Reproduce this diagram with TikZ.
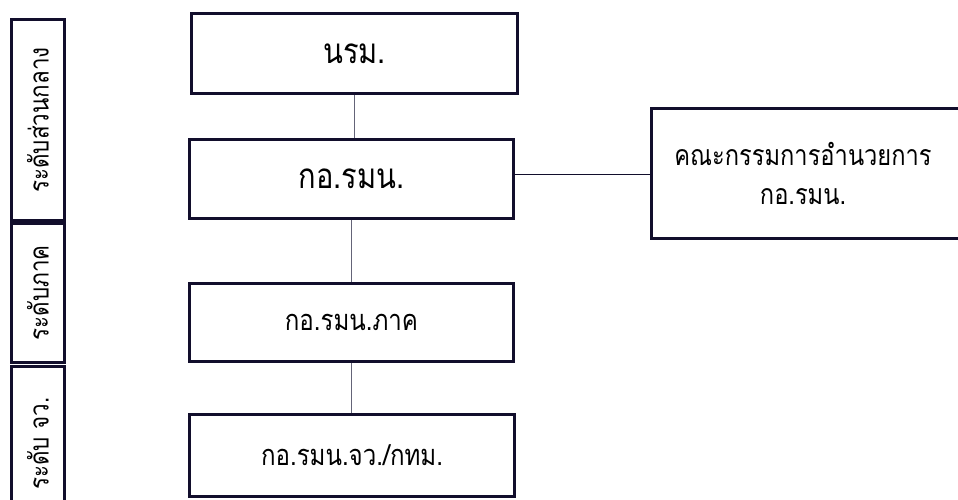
\documentclass[tikz,border=0pt]{standalone}
\usepackage{fontspec}
\setmainfont[Script=Thai,FakeStretch=0.83]{Loma}
\definecolor{boxline}{RGB}{18,14,44}
\definecolor{conn}{RGB}{100,100,120}
\begin{document}
\begin{tikzpicture}[x=1pt,y=-1pt,
  orgbox/.style={draw=boxline,line width=3pt,fill=white,rectangle,inner sep=0pt,align=center},
  cell/.style={draw=boxline,line width=3pt,rectangle,inner sep=0pt,minimum width=53pt},
  celltext/.style={rotate=90,font=\fontsize{27}{30}\selectfont,inner sep=0pt},
  link/.style={draw=conn,line width=1pt}]
\useasboundingbox (0,0) rectangle (958,499);
% left level strip
\node[cell,minimum height=201pt] (c1) at (38,120) {};
\node[cell,minimum height=139pt] (c2) at (38,293) {};
\node[cell,minimum height=155pt] (c3) at (38,443.5) {};
\node[celltext] (t1) at (c1.center) {ระดับส่วนกลาง};
\node[celltext] (t2) at (c2.center) {ระดับภาค};
\node[celltext] (t3) at (c3.center) {ระดับ จว.};
% main boxes
\node[orgbox,minimum width=326pt,minimum height=80pt,font=\fontsize{35}{38}\selectfont] (b1) at (354.5,53.5) {นรม.};
\node[orgbox,minimum width=324pt,minimum height=79pt,font=\fontsize{35}{38}\selectfont] (b2) at (351.5,179) {กอ.รมน.};
\node[orgbox,minimum width=324pt,minimum height=78pt,font=\fontsize{29}{32}\selectfont] (b3) at (351.5,322.5) {กอ.รมน.ภาค};
\node[orgbox,minimum width=325pt,minimum height=82pt,font=\fontsize{29}{32}\selectfont] (b4) at (352,455.5) {กอ.รมน.จว./กทม.};
\node[orgbox,minimum width=324pt,minimum height=130pt,anchor=west] (r) at (649.5,173.5) {};
\node[align=center,inner sep=0pt,font=\fontsize{28.5}{39}\selectfont] (rt) at (803,173) {คณะกรรมการอำนวยการ\\กอ.รมน.};
% connectors
\draw[link] (b1.south) -- (b1.south |- b2.north);
\draw[link] (b2.south) -- (b2.south |- b3.north);
\draw[link] (b3.south) -- (b3.south |- b4.north);
\draw[link,draw=boxline] (b2.east |- 0,174) -- (r.west |- 0,174);
\end{tikzpicture}
\end{document}
